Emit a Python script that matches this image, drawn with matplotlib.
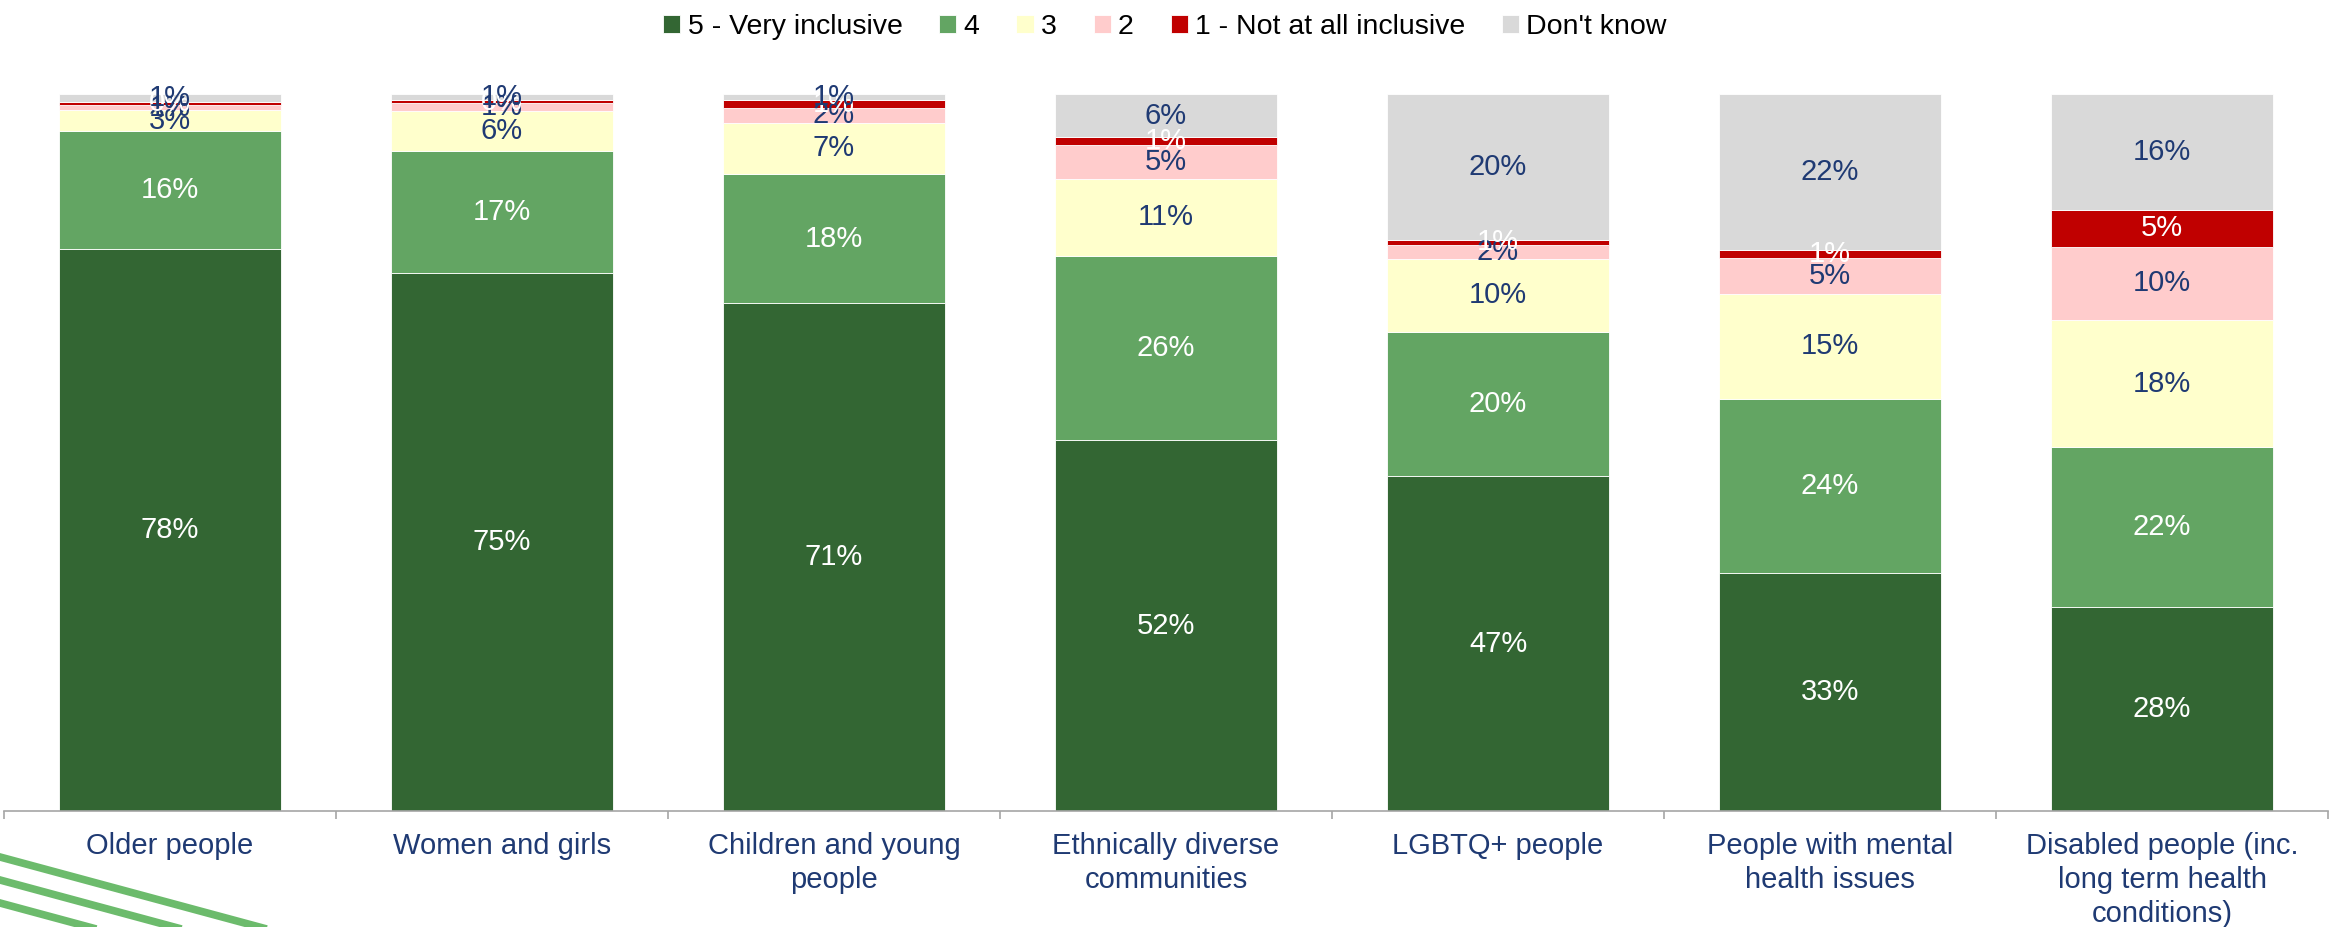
import numpy as np
import matplotlib.pyplot as plt
from matplotlib.lines import Line2D

plt.rcParams['font.family'] = ['Liberation Sans', 'DejaVu Sans']

categories = ['Older people', 'Women and girls', 'Children and young\npeople',
              'Ethnically diverse\ncommunities', 'LGBTQ+ people',
              'People with mental\nhealth issues',
              'Disabled people (inc.\nlong term health\nconditions)']

series = ['5 - Very inclusive', '4', '3', '2', '1 - Not at all inclusive', "Don't know"]

very_inclusive = [78.4, 75.0, 70.8, 51.7, 46.7, 33.2, 28.4]
four = [16.4, 17.0, 18.0, 25.7, 20.1, 24.3, 22.3]
three = [2.9, 5.6, 7.2, 10.8, 10.2, 14.6, 17.8]
two = [0.8, 1.1, 2.1, 4.7, 1.9, 5.0, 10.2]
not_at_all = [0.4, 0.4, 1.0, 1.1, 0.8, 1.2, 5.1]
dont_know = [1.1, 0.9, 0.9, 6.0, 20.3, 21.7, 16.2]

colors = ['#336633', '#63A563', '#FFFFCC', '#FFCCCC', '#C00000', '#D9D9D9']
label_colors = ['white', 'white', '#1F3A73', '#1F3A73', 'white', '#1F3A73']
navy = '#1F3A73'

fig = plt.figure(figsize=(23.3, 9.27), dpi=100)
ax = fig.add_axes([4/2330, 1-811/927, 2324/2330, (811-94)/927])

x = np.arange(len(categories))
bottom = np.zeros(len(categories))
data = [very_inclusive, four, three, two, not_at_all, dont_know]
for vals, col, lc, name in zip(data, colors, label_colors, series):
    vals = np.array(vals)
    ax.bar(x, vals, 0.667, bottom=bottom, color=col, edgecolor='white',
           linewidth=0.6, label=name)
    for xi, b, v in zip(x, bottom, vals):
        ax.text(xi, b + v/2, '%d%%' % round(v), ha='center', va='center',
                color=lc, fontsize=21)
    bottom += vals

ax.set_xlim(-0.5, 6.5)
ax.set_ylim(0, 100)
for s in ['top', 'right', 'left']:
    ax.spines[s].set_visible(False)
ax.spines['bottom'].set_color('#A6A6A6')
ax.spines['bottom'].set_linewidth(1.2)
ax.set_yticks([])
ax.set_xticks(x)
ax.set_xticklabels(categories, fontsize=21, color=navy, linespacing=1.27)
ax.tick_params(axis='x', which='major', length=0, pad=15)
ax.set_xticks(np.arange(-0.5, 7, 1), minor=True)
ax.tick_params(axis='x', which='minor', length=6, width=1.2, color='#A6A6A6')

ax.legend(loc='upper center', bbox_to_anchor=(0.5, (927-3)/927), bbox_transform=fig.transFigure,
          ncol=6, frameon=False, fontsize=20.5, handlelength=0.6, handleheight=0.6,
          handletextpad=0.25, columnspacing=1.3, borderaxespad=0)

# decorative stripes in the bottom-left corner
for y0 in [857, 880, 903]:
    fig.add_artist(Line2D([0, 300/2330], [1-y0/927, 1-(y0+81)/927],
                          color='#6CBB6C', linewidth=5.5, transform=fig.transFigure))

fig.savefig('out.png', dpi=100)
